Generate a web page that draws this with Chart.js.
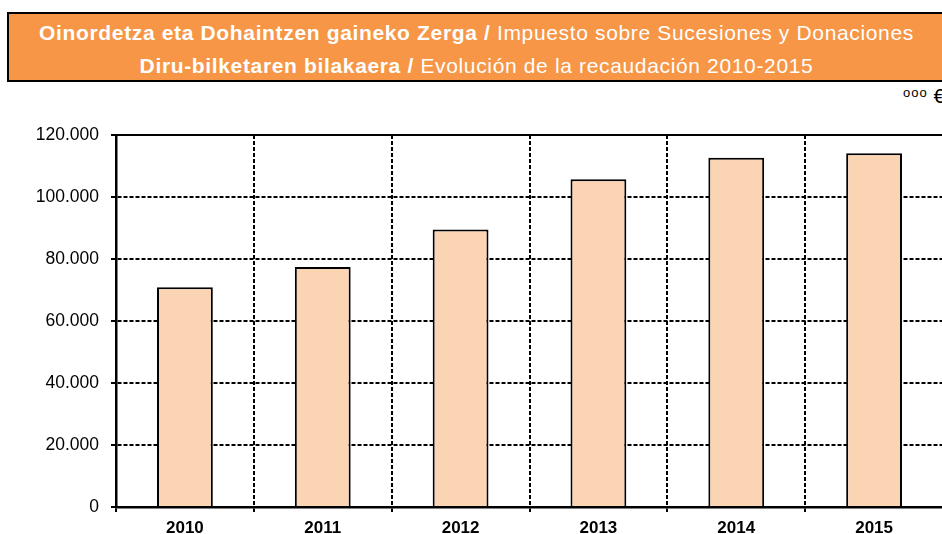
<!DOCTYPE html>
<html>
<head>
<meta charset="utf-8">
<script src="https://cdn.jsdelivr.net/npm/chart.js@4"></script>
<style>
  html, body { margin: 0; padding: 0; background: #fff; overflow: hidden; width: 942px; height: 534px; }
  #titleBox {
    position: absolute; left: 7px; top: 12px; width: 960px; height: 66px;
    background: #F79646; border: 2.5px solid #000; color: #fff;
    font-family: "Liberation Sans", Arial, sans-serif; font-size: 21px; letter-spacing: 0.65px;
  }
  #titleBox div { position: absolute; left: 0; width: 935px; text-align: center; }
  #unit {
    position: absolute; left: 903px; top: 84px; font-family: "Liberation Sans", Arial, sans-serif;
    font-size: 21px; color: #000; white-space: nowrap;
  }
  #unit span { font-size: 13px; letter-spacing: 1px; vertical-align: 6px; }
  #chartWrap { position: absolute; left: 0; top: 85px; }
</style>
</head>
<body>
<div id="titleBox">
  <div style="top:7px"><b>Oinordetza eta Dohaintzen gaineko Zerga /</b> Impuesto sobre Sucesiones y Donaciones</div>
  <div style="top:40px"><b>Diru-bilketaren bilakaera /</b> Evolución de la recaudación 2010-2015</div>
</div>
<div id="unit"><span>ooo</span> €</div>
<div id="chartWrap"><canvas id="chart" width="952" height="449"></canvas></div>
<script>
const years = ['2010', '2011', '2012', '2013', '2014', '2015'];
const recaudacion = [70900, 77400, 89500, 105700, 112700, 114100];
const yTicks = [0, 20000, 40000, 60000, 80000, 100000, 120000];

function formatMiles(v) {
  return v === 0 ? '0' : v.toLocaleString('de-DE');
}

const topLine = {
  id: 'topLine',
  afterDraw(chart) {
    const a = chart.chartArea;
    const c = chart.ctx;
    c.save();
    c.strokeStyle = '#000';
    c.lineWidth = 2;
    c.beginPath();
    c.moveTo(a.left, a.top);
    c.lineTo(a.right, a.top);
    c.stroke();
    c.restore();
  }
};

const ctx = document.getElementById('chart');
new Chart(ctx, {
  type: 'bar',
  data: {
    labels: years,
    datasets: [{
      data: recaudacion,
      backgroundColor: '#FBD4B4',
      borderColor: '#000',
      borderWidth: 2,
      borderSkipped: 'bottom',
      barPercentage: 0.405,
      categoryPercentage: 1
    }]
  },
  options: {
    responsive: false,
    animation: false,
    layout: { padding: { top: 50, right: 9, left: 0, bottom: 0 } },
    plugins: {
      legend: { display: false },
      title: { display: false },
      tooltip: { enabled: false }
    },
    scales: {
      x: {
        afterFit(scale) { scale.height = 27; },
        grid: {
          offset: true,
          color: '#000',
          lineWidth: 2,
          tickLength: 5,
          tickColor: '#000',
          tickWidth: 2
        },
        border: { display: true, color: '#000', width: 2.5, dash: [4, 2] },
        ticks: {
          color: '#000',
          padding: 6,
          font: { family: 'Liberation Sans, Arial, sans-serif', size: 17, weight: 'bold' }
        }
      },
      y: {
        min: 0,
        max: 120000,
        afterFit(scale) { scale.width = 116; },
        afterBuildTicks(scale) { scale.ticks = yTicks.map(v => ({ value: v })); },
        grid: {
          color: '#000',
          lineWidth: 2,
          tickLength: 5,
          tickColor: '#000',
          tickWidth: 2
        },
        border: { display: true, color: '#000', width: 2.5, dash: [4, 2] },
        ticks: {
          color: '#000',
          padding: 12,
          font: { family: 'Liberation Sans, Arial, sans-serif', size: 17.5 },
          callback: (v) => formatMiles(v)
        }
      }
    }
  },
  plugins: [topLine]
});
</script>
</body>
</html>
